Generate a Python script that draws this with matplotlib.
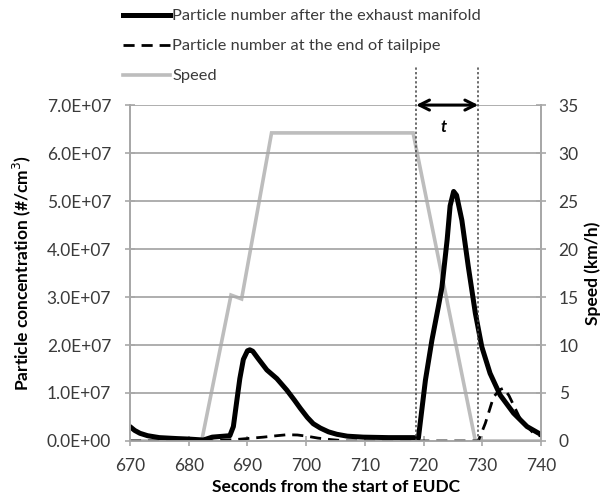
import numpy as np
import matplotlib
matplotlib.use('Agg')
import matplotlib.pyplot as plt
from matplotlib.lines import Line2D

plt.rcParams['font.family'] = ['Lato', 'DejaVu Sans']

# ---- data ----
t_manifold = [670, 670.8, 671.7, 673, 675, 678, 680, 682.5, 684, 686, 687, 687.6, 688.2, 688.7,
              689.3, 690.0, 690.4, 690.9, 691.8, 693.3, 695, 696.7, 698, 699, 700.2, 701.2,
              702.4, 703.8, 705.2, 707, 709.7, 714, 718.3, 719.1, 720.3, 721.4, 722.5, 723.1,
              724.0, 724.5, 725.1, 725.6, 726.5, 727.6, 728.8, 729.9, 731.3, 733, 735.3,
              737.6, 739.6, 740]
pn_manifold = [3.0e6, 2.2e6, 1.6e6, 1.1e6, 0.7e6, 0.5e6, 0.4e6, 0.2e6, 0.8e6, 1.0e6, 1.1e6, 3.0e6,
               8.5e6, 1.3e7, 1.7e7, 1.88e7, 1.9e7, 1.87e7, 1.72e7, 1.48e7, 1.3e7, 1.06e7, 8.5e6,
               6.8e6, 4.9e6, 3.6e6, 2.7e6, 1.9e6, 1.4e6, 1.0e6, 0.8e6, 0.7e6, 0.7e6, 0.6e6,
               1.27e7, 2.1e7, 2.8e7, 3.2e7, 4.2e7, 4.9e7, 5.2e7, 5.12e7, 4.6e7, 3.63e7, 2.66e7,
               1.96e7, 1.41e7, 9.6e6, 5.8e6, 3.0e6, 1.6e6, 1.4e6]

t_tailpipe = [670, 683.6, 688, 692.7, 695, 696.7, 698.5, 700.1, 702, 704.1, 706.9, 729.3, 730.5,
              731.9, 733.0, 733.6, 734.5, 736.4, 738.7, 740]
pn_tailpipe = [0, 0, 0.3e6, 0.8e6, 1.1e6, 1.3e6, 1.25e6, 1.0e6, 0.6e6, 0.3e6, 0, 0, 3.7e6,
               9.2e6, 1.07e7, 1.1e7, 9.5e6, 4.7e6, 1.6e6, 1.0e6]

t_speed = [670, 682.2, 687.2, 689, 694.1, 718.2, 728.8, 740]
speed = [0, 0, 15.2, 14.8, 32.1, 32.1, 0, 0]

t_window = [718.7, 729.3]

pn_ticks = np.arange(0, 7.01e7, 1e7)
speed_ticks = np.arange(0, 36, 5)
time_ticks = np.arange(670, 741, 10)

# ---- figure ----
fig = plt.figure(figsize=(6.06, 4.98), dpi=100)
ax = fig.add_axes([0.2145, 0.1145, 0.6785, 0.6745])
ax2 = ax.twinx()

grid_col = '#a8a8a8'
ax.set_xlim(670, 740)
ax.set_ylim(0, 7e7)
ax2.set_ylim(0, 35)
ax.set_yticks(pn_ticks)
ax.set_yticklabels([f'{v:.1E}' for v in pn_ticks])
ax.set_xticks(time_ticks)
ax2.set_yticks(speed_ticks)
ax.grid(axis='y', color=grid_col, linewidth=1.3)
ax.set_axisbelow(True)

for a in (ax, ax2):
    for s in a.spines.values():
        s.set_color(grid_col)
        s.set_linewidth(1.3)
    a.spines['top'].set_visible(False)
ax.tick_params(axis='y', direction='inout', length=7, color=grid_col, labelsize=12.5,
               labelcolor='#3a3a3a', width=1.2, pad=10)
ax.tick_params(axis='x', direction='inout', length=7, color=grid_col, labelsize=12.5,
               labelcolor='#3a3a3a', width=1.2, pad=9)
ax2.tick_params(axis='y', direction='inout', length=7, color=grid_col, labelsize=12.5,
                labelcolor='#3a3a3a', width=1.2, pad=9)

# speed underneath the particle curves
ax.set_zorder(ax2.get_zorder() + 1)
ax.patch.set_visible(False)
ax2.plot(t_speed, speed, color='#bdbdbd', linewidth=2.6, solid_joinstyle='miter')

ax.plot(t_tailpipe, pn_tailpipe, color='black', linewidth=2.0, linestyle=(0, (4, 2.5)))
ax.plot(t_manifold, pn_manifold, color='black', linewidth=3.6, solid_capstyle='round',
        solid_joinstyle='round')

# time window t
for tw in t_window:
    ax.plot([tw, tw], [0, 7.8e7], color='#444444', linewidth=1.1, linestyle=(0, (1.5, 1.5)),
            clip_on=False)
ax.annotate('', xy=(t_window[0], 7e7), xytext=(t_window[1], 7e7),
            arrowprops=dict(arrowstyle='<->', color='black', lw=2.2, mutation_scale=18,
                            shrinkA=0, shrinkB=0), annotation_clip=False)
ax.text(np.mean(t_window) - 0.6, 6.55e7, 't', fontsize=12, fontweight='bold', fontstyle='italic',
        ha='center', va='center')

ax.set_xlabel('Seconds from the start of EUDC', fontsize=12.5, fontweight='bold', labelpad=3)
ax.set_ylabel('Particle concentration (#/cm$^3$)', fontsize=12.5, fontweight='bold', labelpad=10)
ax2.set_ylabel('Speed (km/h)', fontsize=12.5, fontweight='bold', labelpad=4)

handles = [Line2D([], [], color='black', linewidth=3.6),
           Line2D([], [], color='black', linewidth=2.0, linestyle=(0, (4, 2.5))),
           Line2D([], [], color='#bdbdbd', linewidth=2.6)]
labels = ['Particle number after the exhaust manifold',
          'Particle number at the end of tailpipe',
          'Speed']
fig.legend(handles, labels, loc='upper left', bbox_to_anchor=(0.178, 1.012), frameon=False,
           fontsize=11.8, handlelength=2.9, handletextpad=0.12, labelspacing=0.95,
           labelcolor='#3a3a3a')

fig.savefig('out.png', dpi=100)
